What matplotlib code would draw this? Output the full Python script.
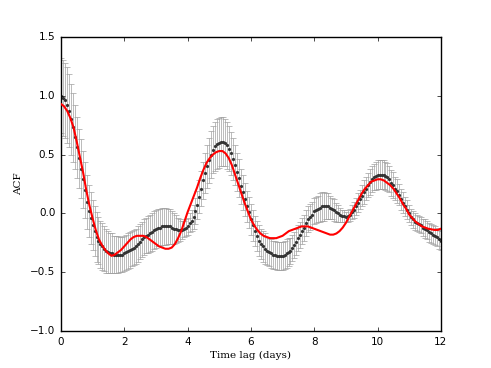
import numpy as np
import matplotlib
matplotlib.use('Agg')
import matplotlib.pyplot as plt
plt.style.use('classic')

# lag grid of the measured ACF: one sample every 1/16 day, 0..12 d
lag = np.arange(193) / 16.0

# mean ACF (black dots), 16 samples per day
acf_mean = [
    1.00, 0.98, 0.96, 0.92, 0.87, 0.80, 0.73, 0.65, 0.56, 0.47, 0.38, 0.29, 0.20, 0.10, 0.02, -0.04,
    -0.10, -0.15, -0.20, -0.23, -0.26, -0.28, -0.30, -0.32, -0.33, -0.34, -0.34, -0.35, -0.35, -0.35, -0.35, -0.35,
    -0.34, -0.33, -0.32, -0.31, -0.30, -0.29, -0.28, -0.26, -0.24, -0.22, -0.20, -0.19, -0.18, -0.17, -0.16, -0.14,
    -0.13, -0.12, -0.12, -0.11, -0.11, -0.11, -0.11, -0.11, -0.12, -0.13, -0.13, -0.14, -0.14, -0.14, -0.13, -0.12,
    -0.11, -0.08, -0.06, -0.03, 0.02, 0.07, 0.14, 0.21, 0.28, 0.34, 0.40, 0.45, 0.50, 0.54, 0.57, 0.59,
    0.60, 0.61, 0.61, 0.60, 0.58, 0.55, 0.51, 0.46, 0.41, 0.35, 0.30, 0.23, 0.18, 0.12, 0.06, 0.01,
    -0.05, -0.10, -0.15, -0.19, -0.23, -0.26, -0.28, -0.30, -0.32, -0.33, -0.34, -0.35, -0.35, -0.36, -0.36, -0.36,
    -0.36, -0.35, -0.34, -0.33, -0.32, -0.29, -0.27, -0.24, -0.21, -0.18, -0.15, -0.12, -0.08, -0.05, -0.03, -0.01,
    0.02, 0.03, 0.04, 0.05, 0.06, 0.06, 0.06, 0.06, 0.05, 0.04, 0.03, 0.01, 0.00, -0.01, -0.02, -0.02,
    -0.03, -0.02, -0.01, 0.01, 0.03, 0.06, 0.09, 0.12, 0.15, 0.18, 0.21, 0.24, 0.27, 0.29, 0.31, 0.32,
    0.33, 0.33, 0.33, 0.33, 0.32, 0.31, 0.29, 0.26, 0.24, 0.21, 0.19, 0.16, 0.12, 0.09, 0.06, 0.03,
    0.00, -0.03, -0.05, -0.07, -0.08, -0.09, -0.10, -0.12, -0.13, -0.14, -0.16, -0.17, -0.18, -0.19, -0.20, -0.22,
    -0.23,
]

# spread of the ACF (grey error bars)
acf_err = [
    0.32, 0.32, 0.32, 0.32, 0.31, 0.30, 0.29, 0.27, 0.26, 0.25, 0.25, 0.24, 0.24, 0.23, 0.22, 0.22,
    0.21, 0.21, 0.21, 0.20, 0.20, 0.20, 0.19, 0.19, 0.18, 0.17, 0.17, 0.16, 0.16, 0.16, 0.15, 0.15,
    0.15, 0.15, 0.15, 0.15, 0.15, 0.15, 0.15, 0.15, 0.15, 0.15, 0.15, 0.15, 0.16, 0.16, 0.16, 0.16,
    0.16, 0.16, 0.16, 0.16, 0.16, 0.16, 0.15, 0.15, 0.14, 0.13, 0.12, 0.10, 0.09, 0.08, 0.07, 0.07,
    0.07, 0.08, 0.09, 0.10, 0.11, 0.12, 0.14, 0.15, 0.16, 0.17, 0.18, 0.19, 0.20, 0.20, 0.21, 0.21,
    0.21, 0.21, 0.21, 0.20, 0.20, 0.19, 0.18, 0.18, 0.17, 0.16, 0.16, 0.15, 0.15, 0.14, 0.13, 0.13,
    0.13, 0.13, 0.13, 0.13, 0.13, 0.13, 0.13, 0.13, 0.12, 0.12, 0.12, 0.12, 0.12, 0.12, 0.12, 0.12,
    0.12, 0.12, 0.12, 0.12, 0.11, 0.11, 0.11, 0.11, 0.11, 0.11, 0.11, 0.11, 0.11, 0.11, 0.11, 0.11,
    0.11, 0.11, 0.11, 0.12, 0.12, 0.12, 0.11, 0.11, 0.10, 0.09, 0.09, 0.08, 0.07, 0.06, 0.05, 0.05,
    0.04, 0.05, 0.05, 0.06, 0.07, 0.07, 0.08, 0.08, 0.09, 0.10, 0.10, 0.10, 0.11, 0.11, 0.11, 0.12,
    0.12, 0.12, 0.12, 0.12, 0.12, 0.12, 0.11, 0.11, 0.11, 0.10, 0.10, 0.09, 0.09, 0.09, 0.08, 0.08,
    0.07, 0.07, 0.07, 0.07, 0.07, 0.07, 0.07, 0.07, 0.08, 0.08, 0.08, 0.08, 0.08, 0.08, 0.08, 0.08,
    0.08,
]

# lag grid of the model curve: every 0.1 day
lag_model = np.round(np.arange(0, 12.01, 0.1), 1)

# model ACF (red line)
acf_model = [
    0.93, 0.91, 0.87, 0.81, 0.73, 0.61, 0.48, 0.35, 0.20, 0.07,
    -0.04, -0.14, -0.22, -0.27, -0.31, -0.34, -0.36, -0.35, -0.33, -0.31,
    -0.28, -0.25, -0.22, -0.20, -0.19, -0.19, -0.19, -0.20, -0.22, -0.24,
    -0.26, -0.28, -0.29, -0.30, -0.30, -0.29, -0.26, -0.21, -0.15, -0.07,
    0.01, 0.08, 0.15, 0.22, 0.30, 0.37, 0.43, 0.47, 0.50, 0.52,
    0.53, 0.53, 0.51, 0.47, 0.41, 0.33, 0.25, 0.17, 0.09, 0.02,
    -0.05, -0.10, -0.14, -0.17, -0.19, -0.20, -0.21, -0.21, -0.21, -0.20,
    -0.19, -0.17, -0.15, -0.14, -0.13, -0.12, -0.11, -0.11, -0.11, -0.12,
    -0.13, -0.14, -0.15, -0.16, -0.17, -0.18, -0.18, -0.17, -0.15, -0.12,
    -0.08, -0.03, 0.02, 0.07, 0.12, 0.17, 0.21, 0.24, 0.27, 0.28,
    0.29, 0.29, 0.28, 0.26, 0.24, 0.21, 0.17, 0.13, 0.08, 0.04,
    -0.01, -0.04, -0.07, -0.09, -0.11, -0.12, -0.13, -0.135, -0.14, -0.14,
    -0.13,
]

x_ticks = [0, 2, 4, 6, 8, 10, 12]
y_ticks = [-1.0, -0.5, 0.0, 0.5, 1.0, 1.5]

fig = plt.figure(figsize=(4.91, 3.68), dpi=100, facecolor='white')
ax = fig.add_axes([0.124, 0.1, 0.774, 0.8])
ax.set_facecolor('white')

ax.errorbar(lag, acf_mean, yerr=acf_err, fmt='o', color='#333333', ms=2.3,
            mec='none', ecolor='#a0a0a0', elinewidth=0.5, capsize=2.0,
            capthick=0.5, zorder=2)
ax.plot(lag_model, acf_model, color='red', lw=1.5, zorder=3)

ax.set_xlim(0, 12)
ax.set_ylim(-1.0, 1.5)
ax.set_xticks(x_ticks)
ax.set_yticks(y_ticks)
ax.tick_params(labelsize=7.5, length=3, direction='in', top=True, right=True)
ax.set_xlabel('Time lag (days)', family='DejaVu Serif', fontsize=7.5, labelpad=3)
ax.set_ylabel('ACF', family='DejaVu Serif', fontsize=7.5, labelpad=5)

fig.savefig('out.png', dpi=100, facecolor='white')
